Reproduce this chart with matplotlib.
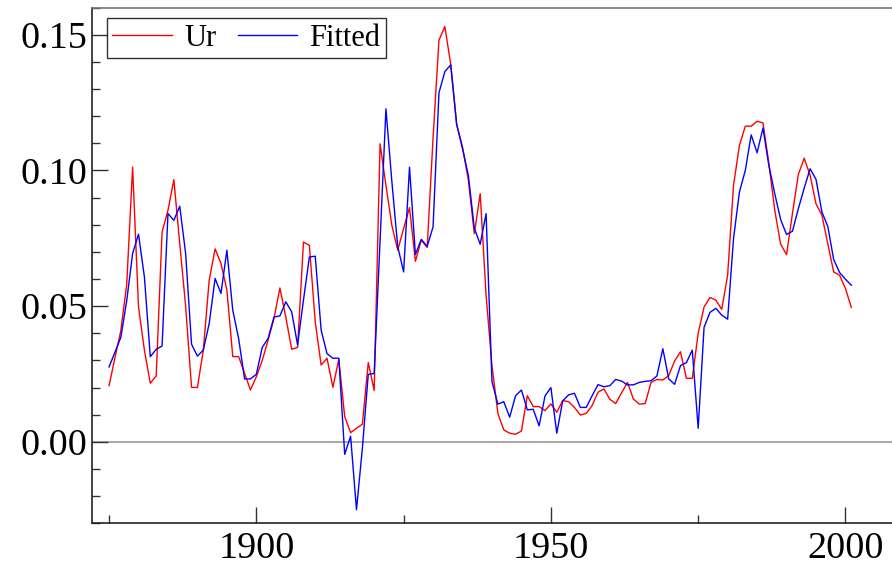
import matplotlib.pyplot as plt
import numpy as np
from matplotlib.ticker import MultipleLocator, FormatStrFormatter

plt.rcParams['font.family'] = ['Liberation Serif', 'DejaVu Serif']

years = np.arange(1875, 2002)

ur = [
    0.0207, 0.031, 0.041, 0.058, 0.1012, 0.0497, 0.0338, 0.0216, 0.0243, 0.0773,
    0.0853, 0.0966, 0.073, 0.050, 0.0201, 0.020, 0.0338, 0.0596, 0.0711, 0.0657,
    0.056, 0.0314, 0.0314, 0.0253, 0.0191, 0.024, 0.030, 0.0375, 0.0455, 0.0567,
    0.046, 0.0341, 0.0348, 0.0736, 0.0724, 0.0442, 0.0283, 0.0308, 0.0201, 0.0304,
    0.0093, 0.0034, 0.005, 0.0065, 0.0292, 0.0189, 0.1098, 0.0945, 0.0798, 0.0706,
    0.0786, 0.0863, 0.0665, 0.0743, 0.0716, 0.112, 0.148, 0.153, 0.139, 0.117,
    0.1086, 0.0963, 0.0767, 0.0914, 0.054, 0.028, 0.0105, 0.0044, 0.0032, 0.0028,
    0.004, 0.017, 0.013, 0.013, 0.0115, 0.014, 0.0109, 0.0152, 0.0148, 0.0127,
    0.0099, 0.0105, 0.0134, 0.0183, 0.0195, 0.0157, 0.0141, 0.0181, 0.0219, 0.0158,
    0.0139, 0.0141, 0.0219, 0.023, 0.0228, 0.0244, 0.0298, 0.0332, 0.0234, 0.0234,
    0.040, 0.0497, 0.0532, 0.0522, 0.0488, 0.0614, 0.0945, 0.1092, 0.1163, 0.1163,
    0.1181, 0.1175, 0.1025, 0.0853, 0.0728, 0.069, 0.0841, 0.0985, 0.1045, 0.0982,
    0.0877, 0.0835, 0.073, 0.0626, 0.0614, 0.0565, 0.0495,
]

fitted = [
    0.0276, 0.033, 0.0385, 0.052, 0.0694, 0.0765, 0.0608, 0.0314, 0.0341, 0.0353,
    0.0841, 0.0816, 0.0868, 0.0694, 0.036, 0.0316, 0.0338, 0.0436, 0.0602, 0.0547,
    0.0706, 0.0485, 0.038, 0.0232, 0.0232, 0.0249, 0.0348, 0.0381, 0.046, 0.0464,
    0.0516, 0.0479, 0.0357, 0.0522, 0.0681, 0.0684, 0.0412, 0.0325, 0.0308, 0.0308,
    -0.0046, 0.0021, -0.025, -0.0023, 0.0249, 0.0252, 0.074, 0.1227, 0.096, 0.072,
    0.0626, 0.1012, 0.069, 0.0746, 0.072, 0.0792, 0.1286, 0.1364, 0.1389, 0.117,
    0.108, 0.098, 0.0787, 0.0728, 0.0841, 0.0222, 0.0139, 0.0148, 0.0091, 0.017,
    0.0191, 0.0118, 0.012, 0.0059, 0.0169, 0.020, 0.0032, 0.0151, 0.0173, 0.0179,
    0.0127, 0.0127, 0.017, 0.0211, 0.0203, 0.0207, 0.023, 0.0224, 0.021, 0.021,
    0.0219, 0.0223, 0.0225, 0.0243, 0.0343, 0.0232, 0.0212, 0.0281, 0.0292, 0.0338,
    0.005, 0.0422, 0.0477, 0.0492, 0.0467, 0.0452, 0.0749, 0.092, 0.100, 0.1131,
    0.1065, 0.1156, 0.1018, 0.0914, 0.0819, 0.0764, 0.0776, 0.0859, 0.0935, 0.1006,
    0.0967, 0.0847, 0.0794, 0.0672, 0.0624, 0.0599, 0.0577,
]

fig = plt.figure(figsize=(8.92, 5.70), dpi=100)
ax = fig.add_axes([0.1031, 0.0819, 0.8969, 0.9049])

ax.axhline(0, color='#999999', lw=1.2, zorder=1)
ax.plot(years, ur, color='#ff0000', lw=1.0, label='Ur', zorder=3)
ax.plot(years, fitted, color='#0000ff', lw=1.0, label='Fitted', zorder=4)

ax.set_xlim(1872.1, 2007.9)
ax.set_ylim(-0.03, 0.16)

ax.xaxis.set_major_locator(MultipleLocator(50))
ax.xaxis.set_minor_locator(MultipleLocator(25))
ax.yaxis.set_major_locator(MultipleLocator(0.05))
ax.yaxis.set_minor_locator(MultipleLocator(0.01))
ax.yaxis.set_major_formatter(FormatStrFormatter('%.2f'))

ax.tick_params(which='both', direction='in', labelsize=27.5, color='#333333')
ax.tick_params(which='major', length=11.5, width=1.0)
ax.tick_params(which='minor', length=5.8, width=1.0)
ax.tick_params(axis='y', pad=3)
ax.tick_params(axis='x', pad=6)

for side in ['left', 'bottom']:
    ax.spines[side].set_color('#222222')
    ax.spines[side].set_linewidth(1.2)
ax.spines['top'].set_color('#777777')
ax.spines['top'].set_linewidth(1.2)
ax.spines['right'].set_visible(False)

# legend box sits just inside the top-left corner
leg = ax.legend(loc='upper left', bbox_to_anchor=(0.0185, 0.979), ncol=2, fontsize=22,
                frameon=True, fancybox=False, edgecolor='black',
                handlelength=1.95, handletextpad=0.4, columnspacing=0.7,
                borderpad=0.18, borderaxespad=0.0)
leg.get_frame().set_linewidth(1.0)

fig.savefig('out.png', dpi=100)
